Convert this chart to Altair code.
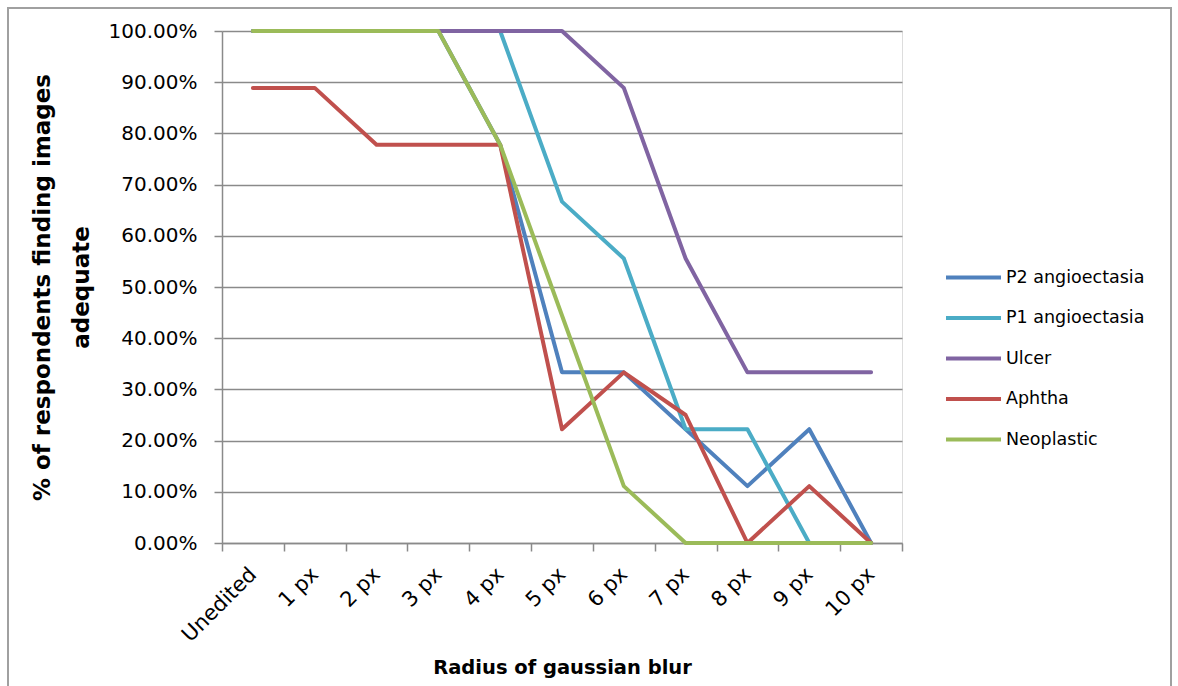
import altair as alt
import pandas as pd

# Blur radius applied to the images (x categories)
blur_levels = ["Unedited", "1 px", "2 px", "3 px", "4 px", "5 px",
               "6 px", "7 px", "8 px", "9 px", "10 px"]

# Share of respondents who found the images adequate, per lesion type
p2_angioectasia = [1.0, 1.0, 1.0, 1.0, 0.7778, 0.3333, 0.3333, 0.2222, 0.1111, 0.2222, 0.0]
p1_angioectasia = [1.0, 1.0, 1.0, 1.0, 1.0, 0.6667, 0.5556, 0.2222, 0.2222, 0.0, 0.0]
ulcer = [1.0, 1.0, 1.0, 1.0, 1.0, 1.0, 0.8889, 0.5556, 0.3333, 0.3333, 0.3333]
aphtha = [0.8889, 0.8889, 0.7778, 0.7778, 0.7778, 0.2222, 0.3333, 0.25, 0.0, 0.1111, 0.0]
neoplastic = [1.0, 1.0, 1.0, 1.0, 0.7778, 0.4444, 0.1111, 0.0, 0.0, 0.0, 0.0]

series_names = ["P2 angioectasia", "P1 angioectasia", "Ulcer", "Aphtha", "Neoplastic"]
series_values = [p2_angioectasia, p1_angioectasia, ulcer, aphtha, neoplastic]
series_colors = ["#4F81BD", "#4BACC6", "#8064A2", "#C0504D", "#9BBB59"]

y_ticks = [i / 10 for i in range(11)]

rows = []
for name, values in zip(series_names, series_values):
    for level, v in zip(blur_levels, values):
        rows.append({"series": name, "blur": level, "share": v})
df = pd.DataFrame(rows)

FONT = "DejaVu Sans"
GRID = "#8a8a8a"

lines = alt.Chart(df).mark_line(strokeWidth=4, strokeCap="round", strokeJoin="round").encode(
    x=alt.X(
        "blur:N",
        sort=blur_levels,
        bandPosition=0.5,
        scale=alt.Scale(type="band", paddingInner=0, paddingOuter=0),
        axis=alt.Axis(
            title="Radius of gaussian blur",
            titleFont=FONT, titleFontSize=19.5, titleFontWeight="bold", titleColor="#000",
            titleY=130, titleBaseline="alphabetic",
            labelFont=FONT, labelFontSize=21, labelColor="#000",
            labelAngle=-45, labelAlign="right", labelBaseline="middle", labelPadding=20,
            tickBand="extent", tickSize=8, tickColor=GRID, tickWidth=1.5,
            domainColor=GRID, domainWidth=1.5, grid=False,
        ),
    ),
    y=alt.Y(
        "share:Q",
        scale=alt.Scale(domain=[0, 1], nice=False),
        axis=alt.Axis(
            title=["% of respondents finding images", "adequate"],
            titleFont=FONT, titleFontSize=23, titleFontWeight="bold", titleColor="#000",
            titleAngle=-90, titleX=-173, titleY=256, titleAlign="center",
            titleBaseline="alphabetic", titleLineHeight=39,
            values=y_ticks, format=".2%",
            labelFont=FONT, labelFontSize=20, labelColor="#000", labelPadding=17,
            tickSize=8, tickColor=GRID, tickWidth=1.5,
            domainColor=GRID, domainWidth=1.5,
            grid=True, gridColor=GRID, gridWidth=1.5,
        ),
    ),
    color=alt.Color(
        "series:N",
        sort=series_names,
        scale=alt.Scale(domain=series_names, range=series_colors),
        legend=alt.Legend(
            title=None, orient="none", legendX=722, legendY=217,
            symbolType="stroke", symbolSize=3025, symbolStrokeWidth=4,
            labelFont=FONT, labelFontSize=17.5, labelColor="#000",
            labelOffset=3, rowPadding=2.5,
        ),
    ),
)

frame = alt.Chart(alt.Data(values=[{}])).mark_rect(
    fill=None, stroke="#a0a0a0", strokeWidth=2
).encode(
    x=alt.value(-214), x2=alt.value(949), y=alt.value(-23), y2=alt.value(670)
)

chart = alt.layer(frame, lines).properties(
    width=680,
    height=512,
    autosize=alt.AutoSizeParams(type="none"),
    padding={"left": 222, "top": 31, "right": 276, "bottom": 143},
).configure_view(stroke=None).configure(background="#ffffff")

chart.save("out.html", embed_options={"renderer": "svg", "actions": False})
